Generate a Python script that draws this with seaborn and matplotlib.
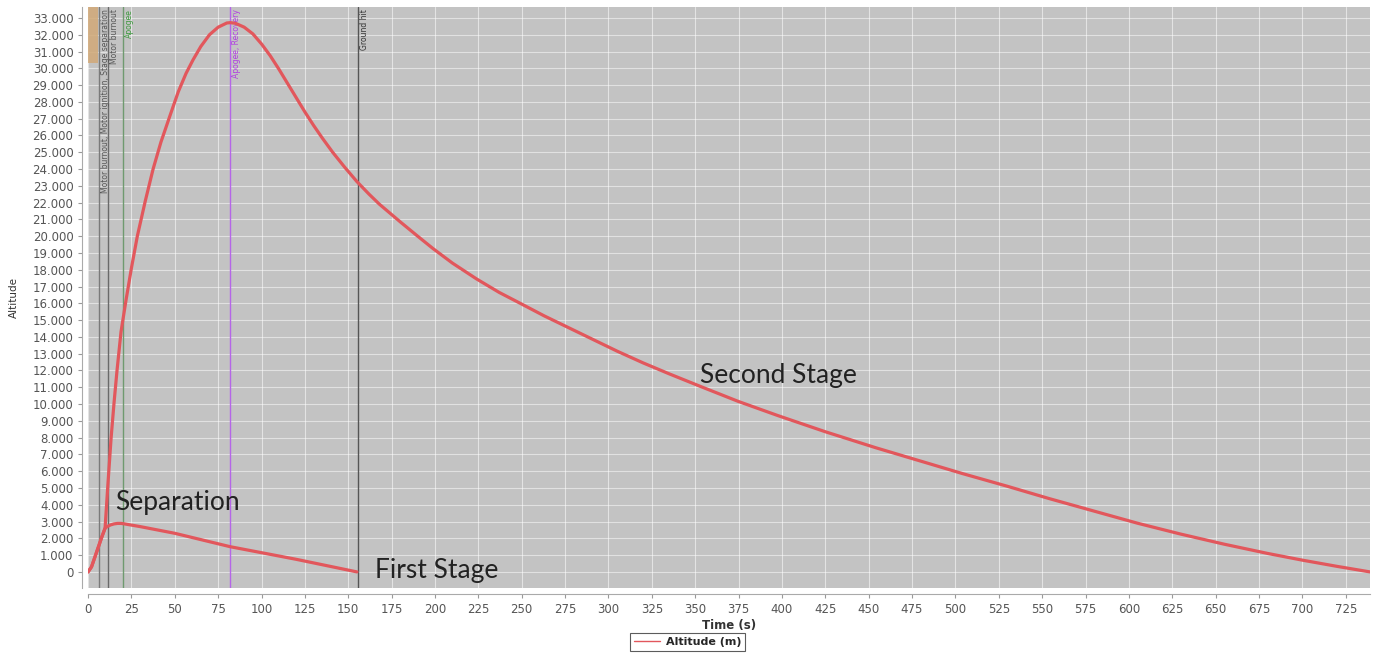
import matplotlib
matplotlib.use("Agg")
import matplotlib.pyplot as plt
import seaborn as sns
import pandas as pd
from matplotlib.lines import Line2D
from matplotlib.ticker import FuncFormatter

# ---- data ----
second_time = [0, 2, 5, 8, 9.8, 11.5, 13.3, 15, 16.7, 19, 21.9, 25, 28.4, 33, 37.5, 42, 47.3,
               52, 56.5, 60.5, 65, 70, 75, 80, 82, 85, 90, 95, 100, 105, 110, 115, 120, 125,
               130, 135, 141, 148, 155, 162, 168, 180, 190, 199, 210, 224, 237, 251, 263,
               276, 290, 305, 320, 335, 353, 375, 398, 425, 454, 480, 504, 530, 554, 580,
               605, 630, 655, 680, 700, 720, 739]
second_alt = [0, 300, 1200, 2100, 2600, 5300, 8000, 10100, 12000, 14300, 16200, 18100, 20000,
              22100, 24000, 25600, 27200, 28600, 29700, 30500, 31300, 32000, 32450, 32700,
              32720, 32680, 32450, 32050, 31450, 30750, 29950, 29100, 28250, 27400, 26600,
              25850, 25000, 24100, 23250, 22500, 21900, 20850, 20000, 19250, 18400, 17450,
              16650, 15900, 15250, 14600, 13900, 13150, 12450, 11800, 11050, 10150, 9300,
              8350, 7400, 6600, 5860, 5100, 4370, 3620, 2900, 2250, 1650, 1100, 700, 330, 0]
first_time = [0, 2, 5, 8, 9.8, 11, 13, 15, 17, 19, 21, 30, 50, 82, 120, 155]
first_alt = [0, 300, 1200, 2100, 2600, 2700, 2800, 2860, 2890, 2890, 2860, 2700, 2300, 1500,
             750, 0]

events_t = [6.3, 11.3, 20, 82, 155.5]
events_color = ["#7a7a7a", "#6a6a6a", "#6f9a6f", "#b565e8", "#555555"]
events_text = ["Motor burnout, Motor ignition, Stage separation", "Motor burnout",
               "Apogee", "Apogee, Recovery", "Ground hit"]
events_text_color = ["#555555", "#555555", "#3f9a3f", "#b040e0", "#333333"]

x_ticks = list(range(0, 726, 25))
y_ticks = list(range(0, 33001, 1000))

annot_text = ["Separation", "Second Stage", "First Stage"]
annot_t = [15.6, 353, 165.5]
annot_alt = [3680, 11250, -380]

df = pd.concat([
    pd.DataFrame({"time": second_time, "alt": second_alt, "stage": "second"}),
    pd.DataFrame({"time": first_time, "alt": first_alt, "stage": "first"}),
])

sns.set_style("white")
plt.rcParams["font.family"] = ["DejaVu Sans"]

fig = plt.figure(figsize=(13.78, 6.55), dpi=100)
ax = fig.add_axes([0.0639, 0.102, 0.9303, 0.887])
ax.set_facecolor("#c3c3c3")

ax.set_xlim(0, 739)
ax.set_ylim(-970, 33640)

# grid
for xv in x_ticks:
    ax.axvline(xv, color="white", lw=0.8, alpha=0.55, zorder=0.5)
for yv in y_ticks:
    ax.axhline(yv, color="white", lw=0.8, alpha=0.5, zorder=0.5)

# event markers
ax.axvspan(0, 5.5, ymin=(30300 + 970) / (33640 + 970), ymax=1, color="#d2a978", alpha=0.85, lw=0, zorder=1)
for t, c, txt, tc in zip(events_t, events_color, events_text, events_text_color):
    ax.axvline(t, color=c, lw=1.0, zorder=1)
    ax.text(t + 1.2, 33550, txt, rotation=90, va="top", ha="left", fontsize=5.5,
            color=tc, zorder=2)

red = "#e2575c"
sns.lineplot(data=df, x="time", y="alt", units="stage", estimator=None, sort=False,
             color=red, lw=2.3, ax=ax, zorder=3, legend=False)

for txt, t, a in zip(annot_text, annot_t, annot_alt):
    ax.text(t, a, txt, fontsize=19, family="Lato", color="#222222", va="baseline",
            ha="left", zorder=4)

ax.set_xticks(x_ticks)
ax.set_yticks(y_ticks)
ax.yaxis.set_major_formatter(FuncFormatter(lambda v, p: f"{int(v):,}".replace(",", ".")))
ax.tick_params(axis="both", labelsize=8.5, labelcolor="#555555", color="#999999",
               length=3, width=0.8, direction="out", left=True, bottom=True)

for s in ["top", "right"]:
    ax.spines[s].set_visible(False)
for s in ["left", "bottom"]:
    ax.spines[s].set_color("#aaaaaa")
    ax.spines[s].set_linewidth(0.8)
    ax.spines[s].set_position(("outward", 4))

ax.set_xlabel("Time (s)", fontsize=8.5, fontweight="bold", color="#333333", labelpad=2)
ax.set_ylabel("Altitude", fontsize=7.5, color="#333333", labelpad=10)

handle = Line2D([0], [0], color=red, lw=1)
leg = fig.legend([handle], ["Altitude (m)"], loc="center", bbox_to_anchor=(0.499, 0.02),
                 frameon=True, fancybox=False, handlelength=2.4,
                 borderpad=0.35, handletextpad=0.5, prop={"weight": "bold", "size": 8})
leg.get_frame().set_edgecolor("#333333")
leg.get_frame().set_linewidth(0.8)

fig.savefig("out.png", dpi=100, facecolor="white")
